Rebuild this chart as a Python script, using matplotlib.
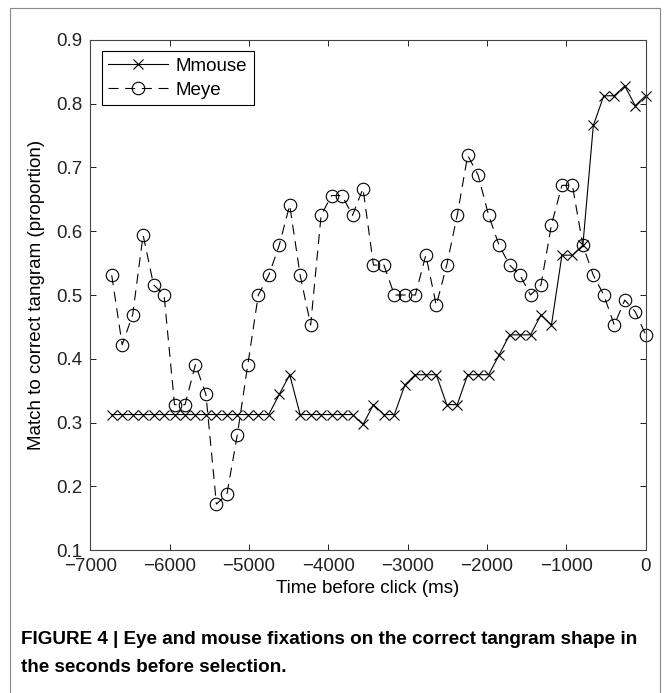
"""
Eye vs. mouse fixations on the correct tangram in the seconds before the click.
"""

import matplotlib
matplotlib.use("Agg")
import matplotlib.pyplot as plt
from matplotlib.patches import Rectangle


# time bins before click (ms)
TIME_MS = [
    -6732, -6600, -6468, -6336, -6204, -6072, -5940, -5808, -5676, -5544,
    -5412, -5280, -5148, -5016, -4884, -4752, -4620, -4488, -4356, -4224,
    -4092, -3960, -3828, -3696, -3564, -3432, -3300, -3168, -3036, -2904,
    -2772, -2640, -2508, -2376, -2244, -2112, -1980, -1848, -1716, -1584,
    -1452, -1320, -1188, -1056, -924, -792, -660, -528, -396, -264,
    -132, 0,
]

MMOUSE = [
    0.3125, 0.3125, 0.3125, 0.3125, 0.3125, 0.3125, 0.3125, 0.3125, 0.3125, 0.3125,
    0.3125, 0.3125, 0.3125, 0.3125, 0.3125, 0.3125, 0.344, 0.375, 0.3125, 0.3125,
    0.3125, 0.3125, 0.3125, 0.3125, 0.297, 0.328, 0.3125, 0.3125, 0.359, 0.375,
    0.375, 0.375, 0.328, 0.328, 0.375, 0.375, 0.375, 0.406, 0.4375, 0.4375,
    0.4375, 0.469, 0.453, 0.5625, 0.5625, 0.578, 0.766, 0.8125, 0.8125, 0.828,
    0.797, 0.8125,
]

MEYE = [
    0.531, 0.422, 0.469, 0.594, 0.516, 0.500, 0.328, 0.328, 0.391, 0.344,
    0.172, 0.1875, 0.281, 0.391, 0.500, 0.531, 0.578, 0.641, 0.531, 0.453,
    0.625, 0.656, 0.656, 0.625, 0.667, 0.547, 0.547, 0.500, 0.500, 0.500,
    0.5625, 0.484, 0.547, 0.625, 0.719, 0.688, 0.625, 0.578, 0.547, 0.531,
    0.500, 0.516, 0.610, 0.672, 0.672, 0.578, 0.531, 0.500, 0.453, 0.492,
    0.474, 0.4375,
]

X_TICKS = [-7000, -6000, -5000, -4000, -3000, -2000, -1000, 0]
Y_TICKS = [0.1, 0.2, 0.3, 0.4, 0.5, 0.6, 0.7, 0.8, 0.9]

CAPTION_1 = "FIGURE 4 | Eye and mouse fixations on the correct tangram shape in"
CAPTION_2 = "the seconds before selection."

plt.rcParams["font.family"] = ["Liberation Sans", "DejaVu Sans"]

fig = plt.figure(figsize=(6.70, 6.93), dpi=100)
ax = fig.add_axes([0.135, 0.2063, 0.8287, 0.736])

ax.plot(TIME_MS, MMOUSE, color="black", linewidth=0.8, marker="x",
        markersize=7, markeredgewidth=0.8, label="Mmouse", clip_on=False)
ax.plot(TIME_MS, MEYE, color="black", linewidth=0.8, marker="o",
        markersize=9, markerfacecolor="none", markeredgewidth=0.8,
        dashes=(9, 6), label="Meye", clip_on=False)

ax.set_xlim(-7000, 0)
ax.set_ylim(0.1, 0.9)
ax.set_xticks(X_TICKS)
ax.set_yticks(Y_TICKS)
ax.set_yticklabels([f"{v:.1f}" for v in Y_TICKS])
ax.tick_params(direction="in", top=True, right=True, length=4, width=0.7,
               labelsize=13.5, pad=6, colors="#222222")
for sp in ax.spines.values():
    sp.set_linewidth(0.8)
    sp.set_color("#444444")

ax.set_xlabel("Time before click (ms)", fontsize=13.5, labelpad=3)
ax.set_ylabel("Match to correct tangram (proportion)", fontsize=13.5, labelpad=8)

leg = ax.legend(loc="upper left", fontsize=13.5, handlelength=3.2,
                borderaxespad=0.6, fancybox=False, framealpha=1,
                edgecolor="black", borderpad=0.35, labelspacing=0.35,
                handletextpad=0.4)
leg.get_frame().set_linewidth(0.8)

# outer figure frame
fig.patches.append(Rectangle((10 / 670, -0.01), 650 / 670, 1 - 8 / 693 + 0.01,
                             transform=fig.transFigure, fill=False,
                             edgecolor="#888888", linewidth=0.8))

cap_font = ["Liberation Sans Narrow", "Liberation Sans", "DejaVu Sans"]
fig.text(21 / 670, 1 - 640 / 693, CAPTION_1, fontsize=13.6, fontweight="bold",
         family=cap_font, va="center", ha="left")
fig.text(21 / 670, 1 - 668 / 693, CAPTION_2, fontsize=13.6, fontweight="bold",
         family=cap_font, va="center", ha="left")

fig.savefig("out.png", dpi=100)
plt.close(fig)
